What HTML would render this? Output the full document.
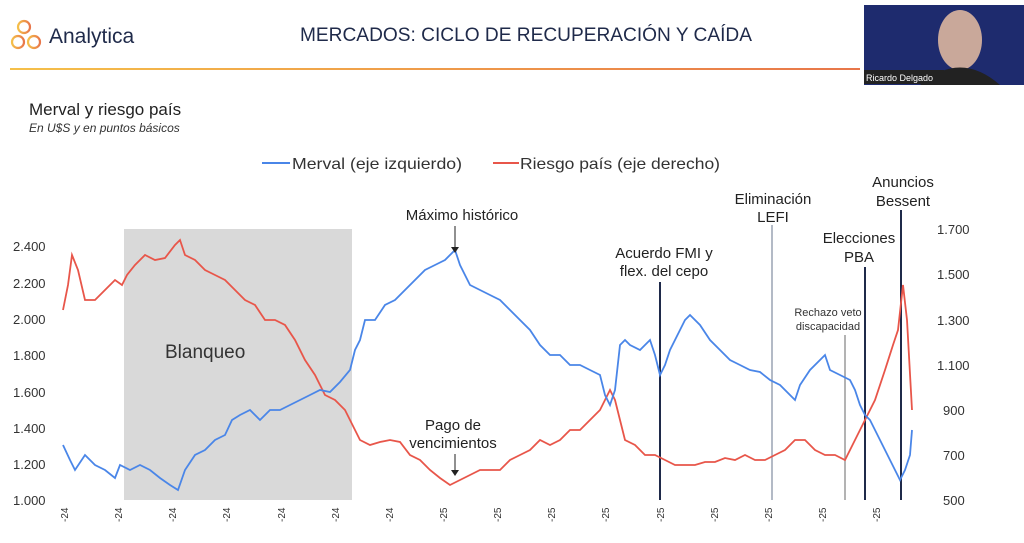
<!DOCTYPE html><html><head><meta charset="utf-8"><style>
body{margin:0;width:1024px;height:538px;background:#fff;overflow:hidden;font-family:"Liberation Sans",sans-serif}
</style></head><body>
<svg width="1024" height="538" viewBox="0 0 1024 538" xmlns="http://www.w3.org/2000/svg" font-family="Liberation Sans, sans-serif">
<defs><linearGradient id="g" x1="0" x2="1"><stop offset="0" stop-color="#f5c04a"/><stop offset="1" stop-color="#e8764a"/></linearGradient></defs>
<g fill="none" stroke="url(#g)" stroke-width="2.2"><circle cx="24" cy="27" r="6"/><circle cx="18" cy="42" r="6"/><circle cx="34" cy="42" r="6"/></g>
<text x="49" y="43" font-size="21" fill="#1f2a4a">Analytica</text>
<text x="300" y="41" font-size="19" fill="#1f2a4a" textLength="452" lengthAdjust="spacingAndGlyphs">MERCADOS: CICLO DE RECUPERACIÓN Y CAÍDA</text>
<rect x="10" y="68" width="850" height="2" fill="url(#g)"/>
<rect x="864" y="5" width="160" height="80" fill="#1e2b6e"/>
<ellipse cx="960" cy="40" rx="22" ry="30" fill="#c9a89a"/>
<path d="M920 85 Q960 50 1000 85Z" fill="#222"/>
<rect x="864" y="70" width="80" height="14" fill="#222"/>
<text x="866" y="81" font-size="9" fill="#fff">Ricardo Delgado</text>
<text x="29" y="115" font-size="17" fill="#222">Merval y riesgo país</text>
<text x="29" y="132" font-size="12" font-style="italic" fill="#333">En U$S y en puntos básicos</text>
<line x1="262" y1="163" x2="290" y2="163" stroke="#4a86e8" stroke-width="2"/>
<text x="292" y="169" font-size="16" fill="#333" textLength="170" lengthAdjust="spacingAndGlyphs">Merval (eje izquierdo)</text>
<line x1="493" y1="163" x2="519" y2="163" stroke="#e8564a" stroke-width="2"/>
<text x="520" y="169" font-size="16" fill="#333" textLength="200" lengthAdjust="spacingAndGlyphs">Riesgo país (eje derecho)</text>
<rect x="124" y="229" width="228" height="271" fill="#d9d9d9"/>
<text x="165" y="358" font-size="19" fill="#333">Blanqueo</text>
<g font-size="13" fill="#333">
<text x="13" y="251">2.400</text><text x="13" y="288">2.200</text><text x="13" y="324">2.000</text><text x="13" y="360">1.800</text><text x="13" y="397">1.600</text><text x="13" y="433">1.400</text><text x="13" y="469">1.200</text><text x="13" y="505">1.000</text>
<text x="937" y="234">1.700</text><text x="937" y="279">1.500</text><text x="937" y="325">1.300</text><text x="937" y="370">1.100</text><text x="943" y="415">900</text><text x="943" y="460">700</text><text x="943" y="505">500</text>
</g>
<g font-size="10" fill="#333">
<text transform="translate(68,522) rotate(-90)">-24</text><text transform="translate(122,522) rotate(-90)">-24</text><text transform="translate(176,522) rotate(-90)">-24</text><text transform="translate(230,522) rotate(-90)">-24</text><text transform="translate(285,522) rotate(-90)">-24</text><text transform="translate(339,522) rotate(-90)">-24</text><text transform="translate(393,522) rotate(-90)">-24</text><text transform="translate(447,522) rotate(-90)">-25</text><text transform="translate(501,522) rotate(-90)">-25</text><text transform="translate(555,522) rotate(-90)">-25</text><text transform="translate(609,522) rotate(-90)">-25</text><text transform="translate(664,522) rotate(-90)">-25</text><text transform="translate(718,522) rotate(-90)">-25</text><text transform="translate(772,522) rotate(-90)">-25</text><text transform="translate(826,522) rotate(-90)">-25</text><text transform="translate(880,522) rotate(-90)">-25</text>
</g>
<line x1="660" y1="282" x2="660" y2="500" stroke="#1f2a4a" stroke-width="2"/>
<line x1="772" y1="225" x2="772" y2="500" stroke="#9aa4b4" stroke-width="1.5"/>
<line x1="845" y1="335" x2="845" y2="500" stroke="#9a9a9a" stroke-width="1.5"/>
<line x1="865" y1="267" x2="865" y2="500" stroke="#1f2a4a" stroke-width="2"/>
<line x1="901" y1="210" x2="901" y2="500" stroke="#1f2a4a" stroke-width="2"/>
<polyline fill="none" stroke="#e8564a" stroke-width="1.8" points="63,310 68,285 72,255 78,270 85,300 95,300 105,290 115,280 122,285 127,275 135,265 145,255 155,260 165,258 175,245 180,240 185,255 195,260 205,270 215,275 225,280 235,290 245,300 255,305 265,320 275,320 285,325 295,340 305,360 315,375 320,385 325,395 335,400 345,410 350,420 360,440 370,445 380,442 390,440 400,442 410,455 420,460 430,470 440,478 450,485 460,480 470,475 480,470 490,470 500,470 510,460 520,455 530,450 540,440 550,445 560,440 570,430 580,430 590,420 600,410 605,400 610,390 615,400 620,420 625,440 635,445 645,455 655,455 665,460 675,465 685,465 695,465 705,462 715,462 725,458 735,460 745,455 755,460 765,460 775,455 785,450 795,440 805,440 815,450 825,455 835,455 845,460 855,440 865,420 875,400 885,370 893,345 898,330 903,285 907,320 912,410"/>
<polyline fill="none" stroke="#4a86e8" stroke-width="1.8" points="63,445 70,460 75,470 85,455 95,465 105,470 115,478 120,465 130,470 140,465 150,470 160,478 170,485 178,490 185,470 195,455 205,450 215,440 225,435 232,420 240,415 250,410 260,420 270,410 280,410 290,405 300,400 310,395 320,390 330,392 340,382 350,370 355,350 360,340 365,320 375,320 385,305 395,300 405,290 415,280 425,270 435,265 445,260 455,250 460,265 470,285 480,290 490,295 500,300 510,310 520,320 530,330 540,345 550,355 560,355 570,365 580,365 590,370 600,375 605,395 610,405 615,390 620,345 625,340 630,345 640,350 645,345 650,340 655,355 660,375 665,365 670,350 680,330 685,320 690,315 700,325 710,340 720,350 730,360 740,365 750,370 760,372 770,380 780,385 790,395 795,400 800,385 810,370 820,360 825,355 830,370 840,375 850,380 855,390 860,405 865,415 870,420 875,430 880,440 885,450 890,460 895,470 900,480 905,470 910,455 912,430"/>
<g font-size="15" fill="#222" text-anchor="middle">
<text x="462" y="220">Máximo histórico</text>
<text x="453" y="430">Pago de</text><text x="453" y="448">vencimientos</text>
<text x="664" y="258">Acuerdo FMI y</text><text x="664" y="276">flex. del cepo</text>
<text x="773" y="204">Eliminación</text><text x="773" y="222">LEFI</text>
<text x="859" y="243">Elecciones</text><text x="859" y="262">PBA</text>
<text x="903" y="187">Anuncios</text><text x="903" y="206">Bessent</text>
</g>
<g font-size="11" fill="#333" text-anchor="middle"><text x="828" y="316">Rechazo veto</text><text x="828" y="330">discapacidad</text></g>
<g stroke="#222" stroke-width="1"><line x1="455" y1="226" x2="455" y2="250"/><line x1="455" y1="454" x2="455" y2="473"/></g>
<g fill="#222"><path d="M451,247 L459,247 L455,253Z"/><path d="M451,470 L459,470 L455,476Z"/></g>
</svg>
</body></html>
